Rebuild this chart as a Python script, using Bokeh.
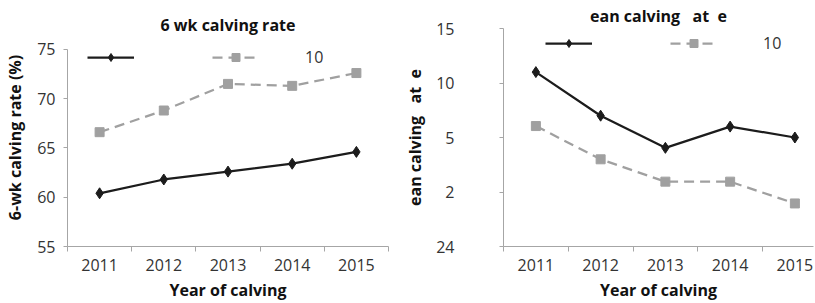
from bokeh.plotting import figure
from bokeh.layouts import row
from bokeh.models import FixedTicker, Legend, LegendItem, Range1d
from bokeh.embed import file_html
from bokeh.resources import INLINE

# ---- data ----
years = [2011, 2012, 2013, 2014, 2015]
rate_black = [60.4, 61.8, 62.6, 63.4, 64.6]
rate_gray = [66.6, 68.8, 71.5, 71.3, 72.6]
rate_ticks = [55, 60, 65, 70, 75]
# right panel values expressed in units of its (evenly spaced) tick labels
date_black = [3.2, 2.4, 1.81, 2.2, 2.0]
date_gray = [2.21, 1.6, 1.19, 1.19, 0.79]
date_tick_pos = [0, 1, 2, 3, 4]
date_tick_labels = ["24", "2", "5", "10", "15"]
legend_labels = ["\u00a0", "10"]
NB = "\u00a0"
left_title = "6 wk calving rate"
left_ylabel = "6-wk calving rate (%)"
right_title = "ean calving" + NB * 3 + "at" + NB * 2 + "e"
xlabel = "Year of calving"

FONT = "Open Sans"
BLACK = "#1c1c1c"
GRAY = "#a0a0a0"
AXIS = "#a6a6a6"
TXT = "#333333"

H = 303
TOP = 28          # frame top (px) shared by both panels
BOTTOM = 56       # space under the frame


def make(width, title, ylabel, yr, yticks, ybounds, x_end, bl, br, lab_standoff,
         ylab_standoff, title_standoff, title_valign, legend_loc, ys_black, ys_gray,
         overrides=None):
    p = figure(width=width, height=H, output_backend="svg", toolbar_location=None,
               x_range=Range1d(years[0] - 0.5, x_end), y_range=Range1d(*yr),
               min_border_left=bl, min_border_right=br, min_border_top=TOP,
               min_border_bottom=BOTTOM)
    p.outline_line_color = None
    p.grid.visible = False
    p.background_fill_color = "white"
    p.border_fill_color = "white"

    p.title.text = title
    p.title.align = "center"
    p.title.vertical_align = title_valign
    p.title.text_font = FONT
    p.title.text_font_size = "16px"
    p.title.text_font_style = "bold"
    p.title.text_color = "#111111"
    p.title.standoff = title_standoff

    xa = p.xaxis[0]
    xa.ticker = FixedTicker(ticks=years,
                            minor_ticks=[y - 0.5 for y in years] + [years[-1] + 0.5])
    xa.major_tick_line_color = None
    xa.minor_tick_in = 0
    xa.minor_tick_out = 5
    xa.minor_tick_line_color = AXIS
    xa.axis_line_color = AXIS
    xa.major_label_text_font = FONT
    xa.major_label_text_font_size = "16px"
    xa.major_label_text_color = TXT
    xa.major_label_text_line_height = 1.0
    xa.major_label_standoff = 6
    xa.axis_label = xlabel
    xa.axis_label_text_font = FONT
    xa.axis_label_text_font_size = "16px"
    xa.axis_label_text_font_style = "bold"
    xa.axis_label_text_color = "#111111"
    xa.axis_label_text_line_height = 1.0
    xa.axis_label_standoff = 5

    ya = p.yaxis[0]
    ya.ticker = FixedTicker(ticks=yticks, minor_ticks=[])
    ya.bounds = ybounds
    if overrides:
        ya.major_label_overrides = overrides
    ya.major_tick_in = 0
    ya.major_tick_out = 4
    ya.major_tick_line_color = AXIS
    ya.axis_line_color = AXIS
    ya.major_label_text_font = FONT
    ya.major_label_text_font_size = "16px"
    ya.major_label_text_color = TXT
    ya.major_label_standoff = lab_standoff
    ya.axis_label = ylabel
    ya.axis_label_text_font = FONT
    ya.axis_label_text_font_size = "16px"
    ya.axis_label_text_font_style = "bold"
    ya.axis_label_text_color = "#111111"
    ya.axis_label_standoff = ylab_standoff

    l1 = p.line(years, ys_black, line_color=BLACK, line_width=2.25)
    m1 = p.scatter(years, ys_black, marker="diamond", size=11,
                   fill_color=BLACK, line_color=BLACK)
    l2 = p.line(years, ys_gray, line_color=GRAY, line_width=2.25, line_dash="10 6")
    m2 = p.scatter(years, ys_gray, marker="square", size=9,
                   fill_color=GRAY, line_color=GRAY)

    leg = Legend(items=[LegendItem(label=legend_labels[0], renderers=[l1, m1]),
                        LegendItem(label=legend_labels[1], renderers=[l2, m2])],
                 orientation="horizontal", location=legend_loc,
                 glyph_width=47, glyph_height=20, label_height=20,
                 label_width=20, label_standoff=46, spacing=12,
                 padding=0, margin=0,
                 border_line_color=None, background_fill_alpha=0,
                 label_text_font=FONT, label_text_font_size="16px",
                 label_text_color=TXT)
    p.add_layout(leg, "center")
    return p


# left panel: 75 sits 21px below the shared frame top (frame 28..247, 55..75 spans 198px)
y_lo, y_hi = rate_ticks[0], rate_ticks[-1]
left_top = y_lo + (y_hi - y_lo) * (247 - TOP) / (247 - 49)

left = make(400, left_title, left_ylabel, (y_lo, left_top), rate_ticks, (y_lo, y_hi),
            years[-1] + 0.5, 67, 12, 8, 8, -15, "bottom", (20, 178),
            rate_black, rate_gray)

right = make(415, right_title, right_title, (date_tick_pos[0], date_tick_pos[-1]),
             date_tick_pos, (date_tick_pos[0], date_tick_pos[-1]),
             years[0] - 0.5 + 310 / 64.75, 103, 2, 45, 7, 0, "top", (42, 192),
             date_black, date_gray,
             overrides={float(k): v for k, v in zip(date_tick_pos, date_tick_labels)})

layout = row(left, right)
open("out.html", "w").write(file_html(layout, INLINE))
